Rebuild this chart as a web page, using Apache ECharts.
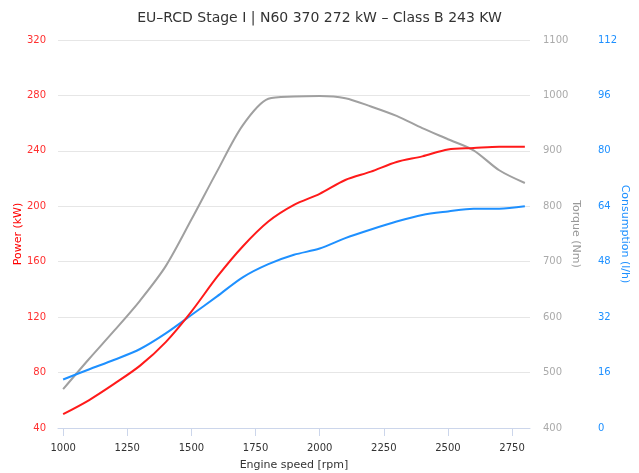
<!DOCTYPE html>
<html><head><meta charset="utf-8">
<script src="https://cdn.jsdelivr.net/npm/echarts@6/dist/echarts.min.js"></script>
<style>html,body{margin:0;padding:0;background:#fff}#c{width:639px;height:473px}</style>
</head><body><div id="c"></div>
<script>
const rpm = [1000,1100,1200,1300,1400,1500,1600,1700,1800,1900,2000,2100,2200,2300,2400,2500,2600,2700,2800];
const power = [50,60,72,85,102,124,149,171,189,201,209,219,225,232,236,241,242,243,243];
const torque = [470,524,576,630,692,776,863,946,994,998,999,995,980,963,941,921,901,865,842];
const consumption = [14,16.9,19.7,22.8,27.3,32.6,38,43.5,47.3,50,51.8,54.8,57.3,59.6,61.5,62.5,63.3,63.3,64];
const xTicks = [1000,1250,1500,1750,2000,2250,2500,2750];

const pair = arr => rpm.map((r,i)=>[r,arr[i]]);
const plain = v => String(v);
const font = 'DejaVu Sans';
const chart = echarts.init(document.getElementById('c'));
chart.setOption({
  animation:false,
  textStyle:{fontFamily:font},
  title:{text:'EU–RCD Stage I | N60 370 272 kW – Class B 243 KW',left:'center',top:6,
    textStyle:{fontFamily:font,fontSize:14,fontWeight:'normal',color:'#333'}},
  grid:{left:58,right:109,top:40,bottom:45,containLabel:false,outerBoundsMode:'none'},
  xAxis:{type:'value',min:980,max:2820,
    name:'Engine speed [rpm]',nameLocation:'middle',nameGap:32,nameMoveOverlap:false,
    nameTextStyle:{color:'#333',fontSize:11,fontFamily:font},
    axisLine:{show:true,lineStyle:{color:'#ccd6eb'}},
    axisTick:{show:true,length:8,lineStyle:{color:'#ccd6eb'},customValues:xTicks},
    axisLabel:{color:'#333',fontSize:10,margin:15,customValues:xTicks,formatter:plain},
    splitLine:{show:false}},
  yAxis:[
    {type:'value',min:40,max:320,interval:40,position:'left',
     name:'Power (kW)',nameLocation:'middle',nameGap:34,nameRotate:90,nameMoveOverlap:false,
     nameTextStyle:{color:'#ff0000',fontSize:11,fontFamily:font},
     axisLine:{show:false},axisTick:{show:false},
     axisLabel:{color:'#ff3030',fontSize:10,margin:12,formatter:plain},
     splitLine:{lineStyle:{color:'#e6e6e6'}}},
    {type:'value',min:400,max:1100,interval:100,position:'right',
     name:'Torque (Nm)',nameLocation:'middle',nameGap:40,nameRotate:-90,nameMoveOverlap:false,
     nameTextStyle:{color:'#999',fontSize:11,fontFamily:font},
     axisLine:{show:false},axisTick:{show:false},
     axisLabel:{color:'#aaa',fontSize:10,margin:13,formatter:plain},
     splitLine:{show:false}},
    {type:'value',min:0,max:112,interval:16,position:'right',offset:55,
     name:'Consumption (l/h)',nameLocation:'middle',nameGap:34,nameRotate:-90,nameMoveOverlap:false,
     nameTextStyle:{color:'#1e90ff',fontSize:11,fontFamily:font},
     axisLine:{show:false},axisTick:{show:false},
     axisLabel:{color:'#1e90ff',fontSize:10,margin:13,formatter:plain},
     splitLine:{show:false}}
  ],
  series:[
    {name:'Torque',type:'line',yAxisIndex:1,data:pair(torque),smooth:0.3,showSymbol:false,
     lineStyle:{color:'#a0a0a0',width:2}},
    {name:'Consumption',type:'line',yAxisIndex:2,data:pair(consumption),smooth:0.3,showSymbol:false,
     lineStyle:{color:'#1e90ff',width:2}},
    {name:'Power',type:'line',yAxisIndex:0,data:pair(power),smooth:0.3,showSymbol:false,
     lineStyle:{color:'#ff1a1a',width:2}}
  ]
});
</script></body></html>
